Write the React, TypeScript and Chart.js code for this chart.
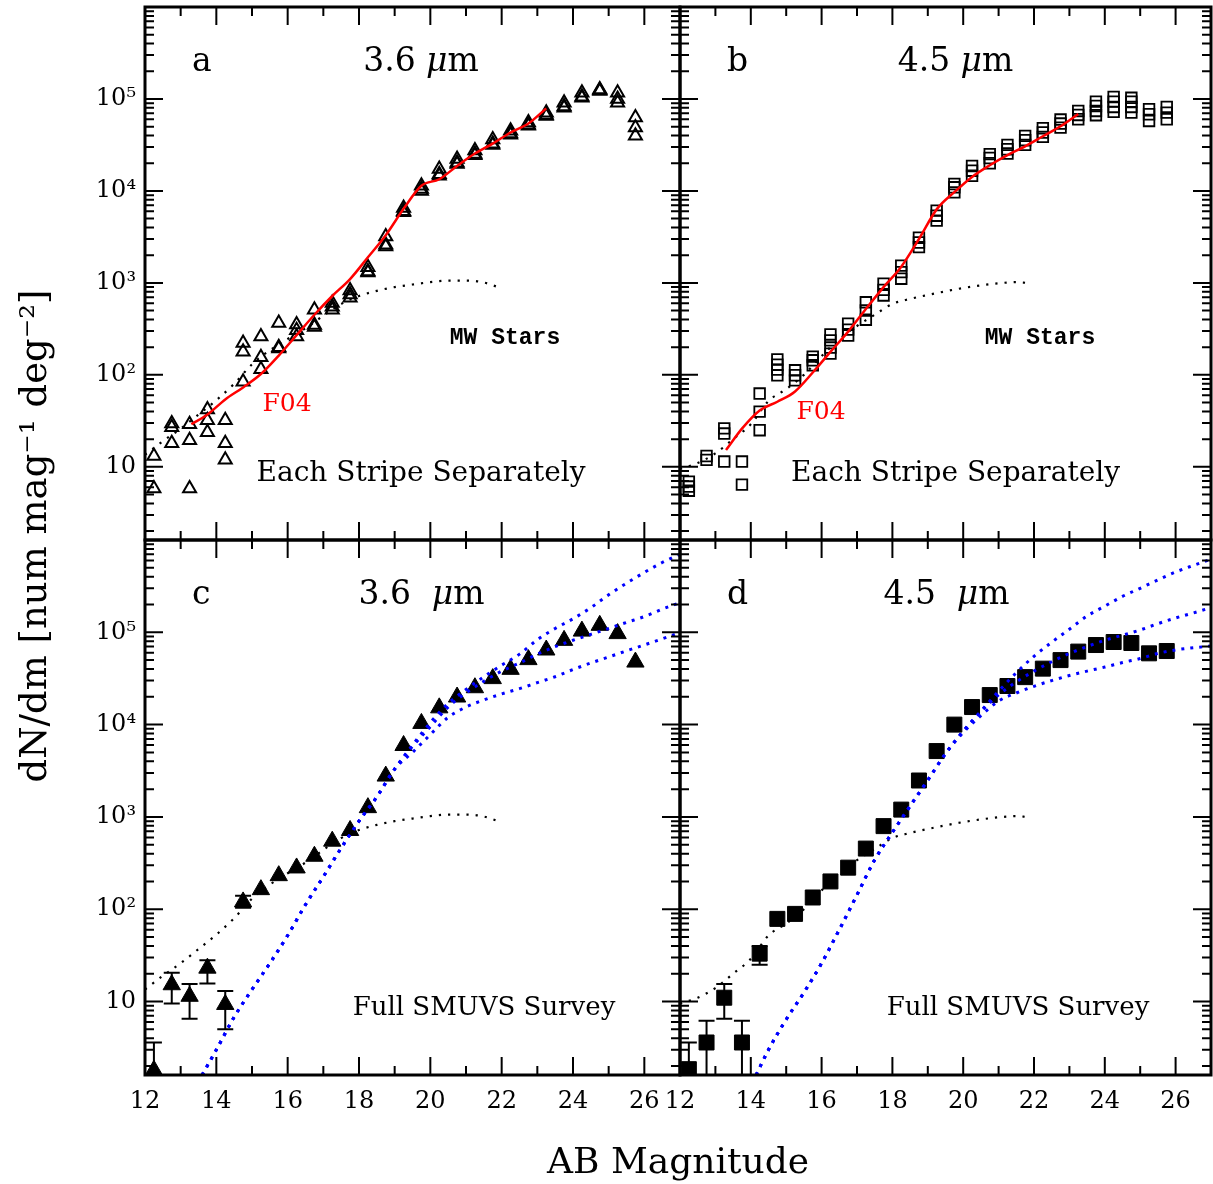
import React, { useEffect, useRef } from "react";
import { Chart, registerables } from "chart.js";

Chart.register(...registerables);

// ---------------- data ----------------
const MAGS = [12.25, 12.75, 13.25, 13.75, 14.25, 14.75, 15.25, 15.75, 16.25, 16.75, 17.25, 17.75, 18.25, 18.75, 19.25, 19.75, 20.25, 20.75, 21.25, 21.75, 22.25, 22.75, 23.25, 23.75, 24.25, 24.75, 25.25, 25.75];

// panel a : 3.6 um, each stripe separately (open triangles)
const STRIPE36_1 = [13.1, 29.5, 29, 42, 32, 222, 262, 366, 352, 510, 605, 828, 1480, 3190, 6520, 11400, 17300, 22200, 27600, 36300, 45000, 55300, 71000, 91200, 117000, 127000, 117000, 62700];
const STRIPE36_2 = [5.8, 27, 19.5, 32, 18, 178, 155, 193, 305, 348, 550, 748, 1300, 2480, 5850, 10000, 14600, 19600, 24500, 31600, 40700, 51000, 65400, 80500, 103000, 122000, 91200, 48800];
const STRIPE36_3 = [null, 18, 5.8, 23.7, 11.9, 84, 115, 200, 262, 332, 510, 690, 1330, 2600, 6000, 10500, 15200, 20300, 25200, 32500, 42000, 52500, 67000, 83000, 106000, 124000, 100000, 39700];

// panel b : 4.5 um, each stripe separately (open squares)
const STRIPE45_1 = [6.9, 13.1, 26.2, 11.4, 62.6, 147, 112, 158, 275, 360, 615, 980, 1540, 3100, 6100, 11900, 18700, 25100, 31700, 39700, 48100, 59700, 74100, 93500, 105000, 103000, 77300, 81900];
const STRIPE45_2 = [6.1, 11.9, 23, 6.4, 39.8, 129, 99, 144, 237, 310, 500, 840, 1310, 2750, 5380, 10950, 16600, 22800, 28400, 35600, 43200, 54000, 67000, 84000, 93500, 93500, 68200, 71000];
const STRIPE45_3 = [5.5, null, 11.4, null, 25, 114, 87, 127, 198, 268, 398, 730, 1110, 2450, 4750, 9640, 14600, 20000, 25500, 31700, 38700, 48800, 60200, 74100, 81900, 81900, 57700, 60200];
const STRIPE45_4 = [null, null, null, null, null, 99, null, null, 170, null, null, null, null, null, null, null, null, null, null, null, null, null, null, 66600, 72300, 71000, null, null];

// panel c : 3.6 um, full survey (filled triangles + error bars)
const FULL36 = [1.8, 15.2, 11.4, 23, 9.3, 120, 163, 231, 280, 375, 546, 713, 1260, 2770, 5940, 10300, 15200, 19900, 25100, 31500, 39700, 50600, 64300, 81800, 103000, 119000, 96800, 47600];
const FULL36_HI = [3.6, 20.5, 15.5, 28, 13, 140, null, null, null, null, null, null, null, null, null, null, null, null, null, null, null, null, null, null, null, null, null, null];
const FULL36_LO = [0.5, 9.5, 6.5, 15.7, 5, 104, null, null, null, null, null, null, null, null, null, null, null, null, null, null, null, null, null, null, null, null, null, null];

// panel d : 4.5 um, full survey (filled squares + error bars)
const FULL45 = [1.85, 3.6, 11, 3.6, 33, 78.6, 89, 134, 200, 282, 454, 795, 1200, 2480, 5170, 10000, 15500, 20900, 26200, 32700, 40400, 50000, 61800, 72800, 78500, 76600, 59200, 62700];
const FULL45_HI = [3.6, 6.2, 15.5, 6.2, 40, null, null, null, null, null, null, null, null, null, null, null, null, null, null, null, null, null, null, null, null, null, null, null];
const FULL45_LO = [0.5, 0.5, 6.5, 0.5, 25, null, null, null, null, null, null, null, null, null, null, null, null, null, null, null, null, null, null, null, null, null, null, null];

// F04 (red) curves
const F04_MAG = [13.3, 13.75, 14.25, 14.75, 15.25, 15.75, 16.25, 16.75, 17.25, 17.75, 18.25, 18.75, 19.25, 19.75, 20.25, 20.75, 21.25, 21.75, 22.25, 22.75, 23.25];
const F04_36 = [29, 37, 54, 73, 102, 162, 270, 450, 720, 1100, 1900, 3300, 6400, 11400, 13400, 18700, 25500, 32700, 43200, 54000, 79000];
const F04_45 = [15.2, 26, 41, 51, 66, 106, 178, 295, 520, 900, 1500, 3000, 6300, 9700, 14200, 19000, 24500, 30500, 39300, 50500, 68500];

// MW stars (black dotted)
const MW36_MAG = [12.0, 12.5, 13.0, 13.5, 14.0, 14.5, 15.0, 15.5, 16.0, 16.5, 17.0, 17.5, 18.0, 18.5, 19.0, 19.5, 20.0, 20.5, 21.0, 21.5, 21.9];
const MW36 = [13.5, 19, 26, 37, 53, 80, 130, 185, 245, 320, 440, 590, 720, 820, 900, 960, 1020, 1060, 1060, 1010, 900];
const MW45_MAG = [12.0, 12.5, 13.0, 13.5, 14.0, 14.5, 15.0, 15.5, 16.0, 16.5, 17.0, 17.5, 18.0, 18.5, 19.0, 19.5, 20.0, 20.5, 21.0, 21.5, 21.8];
const MW45 = [9.5, 11, 14, 20, 29, 52, 70, 100, 160, 245, 340, 450, 590, 670, 740, 810, 880, 940, 990, 1020, 1000];

// model curves (blue dotted)
const MODEL36_MAG = [13.6, 14.0, 14.5, 15.0, 15.5, 16.0, 16.5, 17.0, 17.5, 18.0, 18.5, 19.0, 19.5, 20.0, 20.5, 21.0, 21.5, 22.0, 22.5, 23.0, 23.5, 24.0, 24.5, 25.0, 25.5, 26.0, 26.5, 27.0];
const MODEL36_BASE = [1.6, 3.0, 6.8, 13.5, 26, 52, 112, 225, 460, 900, 1650, 3300];
const MODEL36_UPPER = [6000, 10500, 17000, 24000, 33000, 44000, 58000, 83000, 110000, 140000, 185000, 255000, 340000, 445000, 570000, 700000];
const MODEL36_MID = [5800, 9500, 15500, 22000, 29500, 38000, 46500, 58000, 70000, 82000, 95000, 110000, 128000, 148000, 178000, 210000];
const MODEL36_LOW = [5000, 7800, 12000, 15500, 18500, 21500, 24500, 28500, 33000, 39500, 46500, 54000, 63000, 73000, 85000, 99000];

const MODEL45_MAG = [14.15, 14.5, 15.0, 15.5, 16.0, 16.5, 17.0, 17.5, 18.0, 18.5, 19.0, 19.5, 20.0, 20.5, 21.0, 21.5, 22.0, 22.5, 23.0, 23.5, 24.0, 24.5, 25.0, 25.5, 26.0, 26.5, 27.0];
const MODEL45_BASE = [1.6, 3.0, 6.4, 12.5, 26, 60, 143, 343, 680, 1310, 2500, 4850];
const MODEL45_UPPER = [8500, 14000, 23000, 36500, 55000, 78000, 108000, 150000, 192000, 245000, 300000, 370000, 450000, 530000, 620000];
const MODEL45_MID = [8500, 13800, 21000, 29000, 38000, 48000, 59000, 70000, 82000, 93000, 106000, 124000, 143000, 162000, 185000];
const MODEL45_LOW = [8200, 12500, 18000, 22000, 26000, 30000, 34000, 38000, 42000, 47000, 52000, 59000, 64500, 68000, 71000];

// axes
const X_MIN = 12;
const X_MAX = 27;
const X_TICKS = [12, 14, 16, 18, 20, 22, 24, 26];
const X_TICK_LABELS = ["12", "14", "16", "18", "20", "22", "24", "26"];
const Y_MIN = 1.6;
const Y_MAX = 1e6;
const Y_TICKS = [10, 100, 1000, 10000, 100000];
const Y_TICK_LABELS = ["10", "10\u00b2", "10\u00b3", "10\u2074", "10\u2075"];

const X_TITLE = "AB Magnitude";
const Y_TITLE = "dN/dm [num mag\u207b\u00b9 deg\u207b\u00b2]";

// ---------------- layout ----------------
const PAGE_W = 1213;
const PAGE_H = 1184;
const OFF = 40;
const CANVAS_H = PAGE_H + OFF;
const SERIF = "'DejaVu Serif'";
const MONO = "'Liberation Mono'";

type Note = { t: string; x: number; y: number; font: string; color?: string };
type Spec = {
  key: string;
  pad: { left: number; top: number; right: number; bottom: number };
  showX: boolean;
  showY: boolean;
  datasets: any[];
  errors?: { hi: (number | null)[]; lo: (number | null)[] };
  letter: string;
  wave: string;
  waveCx: number;
  notes: Note[];
  titles?: boolean;
};

const xy = (xs: number[], ys: (number | null)[]) =>
  xs.map((x, i) => ({ x, y: ys[i] })).filter((p) => p.y !== null && p.y !== undefined);

const lineDs = (xs: number[], ys: (number | null)[], color: string, width: number, dash: number[]) => ({
  type: "line",
  data: xy(xs, ys),
  borderColor: color,
  borderWidth: width,
  borderDash: dash,
  borderCapStyle: "butt",
  pointRadius: 0,
  fill: false,
  cubicInterpolationMode: "monotone",
  clip: 0,
});

const markDs = (ys: (number | null)[], style: string, r: number, filled: boolean, bw: number) => ({
  type: "line",
  showLine: false,
  data: xy(MAGS, ys),
  pointStyle: style,
  pointRadius: r,
  pointBorderWidth: bw,
  pointBorderColor: "#000",
  pointBackgroundColor: filled ? "#000" : "rgba(0,0,0,0)",
  clip: 0,
});

const RED = "#ff0000";
const BLUE = "#0000ff";
const MW_DASH = [2.2, 7];
const BLUE_DASH = [3, 6];

const TOP_PAD = 7 + OFF;
const MID_PAD = 540 + OFF;
const BOT_AXIS_H = 60;

const PANELS: Spec[] = [
  {
    key: "a",
    pad: { left: 0, top: TOP_PAD, right: PAGE_W - 680, bottom: CANVAS_H - (540 + OFF) },
    showX: false,
    showY: true,
    datasets: [
      lineDs(F04_MAG, F04_36, RED, 2.5, []),
      lineDs(MW36_MAG, MW36, "#000", 2.2, MW_DASH),
      markDs(STRIPE36_1, "triangle", 7.5, false, 2),
      markDs(STRIPE36_2, "triangle", 7.5, false, 2),
      markDs(STRIPE36_3, "triangle", 7.5, false, 2),
    ],
    letter: "a",
    wave: "3.6 ",
    waveCx: 276,
    notes: [
      { t: "MW Stars", x: 360, y: 331, font: `bold 23px ${MONO}` },
      { t: "F04", x: 142, y: 397, font: `25px ${SERIF}`, color: RED },
      { t: "Each Stripe Separately", x: 276, y: 467, font: `28px ${SERIF}` },
    ],
  },
  {
    key: "b",
    pad: { left: 680, top: TOP_PAD, right: PAGE_W - 1211, bottom: CANVAS_H - (540 + OFF) },
    showX: false,
    showY: false,
    datasets: [
      lineDs(F04_MAG, F04_45, RED, 2.5, []),
      lineDs(MW45_MAG, MW45, "#000", 2.2, MW_DASH),
      markDs(STRIPE45_1, "rect", 7.5, false, 1.8),
      markDs(STRIPE45_2, "rect", 7.5, false, 1.8),
      markDs(STRIPE45_3, "rect", 7.5, false, 1.8),
      markDs(STRIPE45_4, "rect", 7.5, false, 1.8),
    ],
    letter: "b",
    wave: "4.5 ",
    waveCx: 275.5,
    notes: [
      { t: "MW Stars", x: 360, y: 331, font: `bold 23px ${MONO}` },
      { t: "F04", x: 141, y: 405, font: `25px ${SERIF}`, color: RED },
      { t: "Each Stripe Separately", x: 275.5, y: 467, font: `28px ${SERIF}` },
    ],
  },
  {
    key: "c",
    pad: { left: 0, top: MID_PAD, right: PAGE_W - 680, bottom: CANVAS_H - (1075 + OFF) - BOT_AXIS_H },
    showX: true,
    showY: true,
    datasets: [
      lineDs(MODEL36_MAG, [...MODEL36_BASE, ...MODEL36_UPPER], BLUE, 3, BLUE_DASH),
      lineDs(MODEL36_MAG, [...MODEL36_BASE, ...MODEL36_MID], BLUE, 3, BLUE_DASH),
      lineDs(MODEL36_MAG, [...MODEL36_BASE, ...MODEL36_LOW], BLUE, 3, BLUE_DASH),
      lineDs(MW36_MAG, MW36, "#000", 2.2, MW_DASH),
      markDs(FULL36, "triangle", 10, true, 1),
    ],
    errors: { hi: FULL36_HI, lo: FULL36_LO },
    letter: "c",
    wave: "3.6  ",
    waveCx: 276.5,
    notes: [{ t: "Full SMUVS Survey", x: 339, y: 468, font: `26px ${SERIF}` }],
    titles: true,
  },
  {
    key: "d",
    pad: { left: 680, top: MID_PAD, right: PAGE_W - 1211, bottom: CANVAS_H - (1075 + OFF) - BOT_AXIS_H },
    showX: true,
    showY: false,
    datasets: [
      lineDs(MODEL45_MAG, [...MODEL45_BASE, ...MODEL45_UPPER], BLUE, 3, BLUE_DASH),
      lineDs(MODEL45_MAG, [...MODEL45_BASE, ...MODEL45_MID], BLUE, 3, BLUE_DASH),
      lineDs(MODEL45_MAG, [...MODEL45_BASE, ...MODEL45_LOW], BLUE, 3, BLUE_DASH),
      lineDs(MW45_MAG, MW45, "#000", 2.2, MW_DASH),
      markDs(FULL45, "rect", 10.6, true, 1),
    ],
    errors: { hi: FULL45_HI, lo: FULL45_LO },
    letter: "d",
    wave: "4.5  ",
    waveCx: 266.5,
    notes: [{ t: "Full SMUVS Survey", x: 338, y: 468, font: `26px ${SERIF}` }],
  },
];

// ---------------- drawing helpers ----------------
function makeDeco(spec: Spec) {
  return {
    id: "deco_" + spec.key,
    afterDatasetsDraw(chart: any) {
      if (!spec.errors) return;
      const { ctx, chartArea: a, scales } = chart;
      const xs = scales.x;
      const ys = scales.y;
      ctx.save();
      ctx.beginPath();
      ctx.rect(a.left, a.top, a.right - a.left, a.bottom - a.top);
      ctx.clip();
      ctx.strokeStyle = "#000";
      ctx.lineWidth = 2;
      const cap = 8;
      ctx.beginPath();
      MAGS.forEach((m, i) => {
        const hi = spec.errors!.hi[i];
        const lo = spec.errors!.lo[i];
        if (hi == null || lo == null) return;
        const px = xs.getPixelForValue(m);
        const pHi = ys.getPixelForValue(hi);
        const pLo = ys.getPixelForValue(lo);
        ctx.moveTo(px, pHi);
        ctx.lineTo(px, pLo);
        ctx.moveTo(px - cap, pHi);
        ctx.lineTo(px + cap, pHi);
        ctx.moveTo(px - cap, pLo);
        ctx.lineTo(px + cap, pLo);
      });
      ctx.stroke();
      ctx.restore();
    },
    afterDraw(chart: any) {
      const { ctx, chartArea: a, scales } = chart;
      const xs = scales.x;
      const ys = scales.y;
      ctx.save();
      // inward ticks
      ctx.strokeStyle = "#000";
      ctx.lineWidth = 2;
      ctx.beginPath();
      for (let m = X_MIN + 1; m < X_MAX; m++) {
        const px = xs.getPixelForValue(m);
        const len = m % 2 === 0 ? 18 : 9;
        ctx.moveTo(px, a.bottom);
        ctx.lineTo(px, a.bottom - len);
        ctx.moveTo(px, a.top);
        ctx.lineTo(px, a.top + len);
      }
      for (let d = 0; d <= 6; d++) {
        for (let k = 1; k <= 9; k++) {
          const v = k * Math.pow(10, d);
          if (v <= Y_MIN || v >= Y_MAX) continue;
          const py = ys.getPixelForValue(v);
          const len = k === 1 ? 18 : 9;
          ctx.moveTo(a.left, py);
          ctx.lineTo(a.left + len, py);
          ctx.moveTo(a.right, py);
          ctx.lineTo(a.right - len, py);
        }
      }
      ctx.stroke();
      ctx.lineWidth = 3;
      ctx.strokeRect(a.left, a.top, a.right - a.left, a.bottom - a.top);

      // panel letter
      ctx.fillStyle = "#000";
      ctx.textAlign = "left";
      ctx.textBaseline = "alphabetic";
      ctx.font = `33px ${SERIF}`;
      ctx.fillText(spec.letter, a.left + 47, a.top + 64);

      // wavelength label with italic mu
      const parts: [string, boolean][] = [
        [spec.wave, false],
        ["\u03bc", true],
        ["m", false],
      ];
      let total = 0;
      const widths = parts.map(([t, it]) => {
        ctx.font = `${it ? "italic " : ""}33px ${SERIF}`;
        const w = ctx.measureText(t).width;
        total += w;
        return w;
      });
      let x0 = a.left + spec.waveCx - total / 2;
      parts.forEach(([t, it], i) => {
        ctx.font = `${it ? "italic " : ""}33px ${SERIF}`;
        ctx.fillText(t, x0, a.top + 64);
        x0 += widths[i];
      });

      // notes
      ctx.textAlign = "center";
      ctx.textBaseline = "middle";
      spec.notes.forEach((n) => {
        ctx.font = n.font;
        ctx.fillStyle = n.color || "#000";
        ctx.fillText(n.t, a.left + n.x, a.top + n.y);
      });

      // global axis titles
      if (spec.titles) {
        ctx.fillStyle = "#000";
        ctx.font = `36px ${SERIF}`;
        ctx.textAlign = "center";
        ctx.textBaseline = "alphabetic";
        ctx.fillText(X_TITLE, 678, 1173 + OFF);
        ctx.save();
        ctx.translate(46, 536 + OFF);
        ctx.rotate(-Math.PI / 2);
        ctx.font = `37px ${SERIF}`;
        ctx.fillText(Y_TITLE, 0, 0);
        ctx.restore();
      }
      ctx.restore();
    },
  };
}

function buildConfig(spec: Spec): any {
  const tickFont = { family: SERIF, size: 24 };
  return {
    type: "line",
    data: { datasets: spec.datasets },
    options: {
      animation: false,
      responsive: false,
      events: [],
      layout: { padding: spec.pad, autoPadding: false },
      plugins: { legend: { display: false }, tooltip: { enabled: false } },
      scales: {
        x: {
          type: "linear",
          min: X_MIN,
          max: X_MAX,
          display: spec.showX,
          afterBuildTicks: (s: any) => {
            s.ticks = X_TICKS.map((v) => ({ value: v }));
          },
          ...(spec.showX
            ? {
                afterFit: (s: any) => {
                  s.height = BOT_AXIS_H;
                },
              }
            : {}),
          grid: { display: false, drawTicks: false },
          border: { display: false },
          ticks: {
            autoSkip: false,
            maxRotation: 0,
            minRotation: 0,
            padding: 12,
            color: "#000",
            font: tickFont,
            callback: (_v: any, i: number) => X_TICK_LABELS[i],
          },
        },
        y: {
          type: "logarithmic",
          min: Y_MIN,
          max: Y_MAX,
          display: spec.showY,
          afterBuildTicks: (s: any) => {
            s.ticks = Y_TICKS.map((v) => ({ value: v }));
          },
          ...(spec.showY
            ? {
                afterFit: (s: any) => {
                  s.width = 145;
                },
              }
            : {}),
          grid: { display: false, drawTicks: false },
          border: { display: false },
          ticks: {
            autoSkip: false,
            padding: 9,
            color: "#000",
            font: tickFont,
            callback: (_v: any, i: number) => Y_TICK_LABELS[i],
          },
        },
      },
    },
    plugins: [makeDeco(spec)],
  };
}

function Panel({ spec }: { spec: Spec }) {
  const ref = useRef<HTMLCanvasElement>(null);
  useEffect(() => {
    if (!ref.current) return;
    const chart = new Chart(ref.current, buildConfig(spec));
    return () => chart.destroy();
  }, [spec]);
  return (
    <canvas
      ref={ref}
      width={PAGE_W}
      height={CANVAS_H}
      style={{ position: "absolute", left: 0, top: -OFF, width: PAGE_W, height: CANVAS_H }}
    />
  );
}

export default function App() {
  return (
    <div
      style={{
        position: "absolute",
        left: 0,
        top: 0,
        width: PAGE_W,
        height: PAGE_H,
        overflow: "hidden",
        background: "#fff",
      }}
    >
      {PANELS.map((p) => (
        <Panel key={p.key} spec={p} />
      ))}
    </div>
  );
}
